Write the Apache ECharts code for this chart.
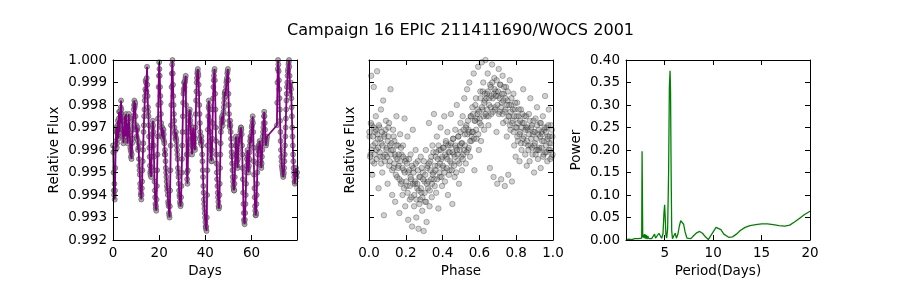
<!DOCTYPE html>
<html>
<head>
<meta charset="utf-8">
<script src="https://cdn.jsdelivr.net/npm/echarts@6/dist/echarts.min.js"></script>
<style>
html,body{margin:0;padding:0;background:#fff;}
#c{width:900px;height:300px;}
</style>
</head>
<body>
<div id="c"></div>
<script>
// ---------- Panel 1: light curve (main samples) ----------
const days = [
0.00,0.25,0.50,0.75,1.00,1.25,1.50,1.75,2.00,2.25,2.50,2.75,3.00,3.25,3.50,3.75,4.00,4.25,4.50,4.75,
5.00,5.25,5.50,5.75,6.00,6.25,6.50,6.75,7.00,7.25,7.50,7.75,8.00,8.25,8.50,8.75,9.00,9.25,9.50,9.75,
10.00,10.25,10.50,10.75,11.00,11.25,11.50,11.75,12.00,12.25,12.50,12.75,13.00,13.25,13.50,13.75,14.00,14.25,14.50,14.75,
15.00,15.25,15.50,15.75,16.00,16.25,16.50,16.75,17.00,17.25,17.50,17.75,18.00,18.25,18.50,18.75,19.00,19.25,19.50,19.75,
20.00,20.25,20.50,20.75,21.00,21.25,21.50,21.75,22.00,22.25,22.50,22.75,23.00,23.25,23.50,23.75,24.00,24.25,24.50,24.75,
25.00,25.25,25.50,25.75,26.00,26.25,26.50,26.75,27.00,27.25,27.50,27.75,28.00,28.25,28.50,28.75,29.00,29.25,29.50,29.75,
30.00,30.25,30.50,30.75,31.00,31.25,31.50,31.75,32.00,32.25,32.50,32.75,33.00,33.25,33.50,33.75,34.00,34.25,34.50,34.75,
35.00,35.25,35.50,35.75,36.00,36.25,36.50,36.75,37.00,37.25,37.50,37.75,38.00,38.25,38.50,38.75,39.00,39.25,39.50,39.75,
40.00,40.25,40.50,40.75,41.00,41.25,41.50,41.75,42.00,42.25,42.50,42.75,43.00,43.25,43.50,43.75,44.00,44.25,44.50,44.75,
45.00,45.25,45.50,45.75,46.00,46.25,46.50,46.75,47.00,47.25,47.50,47.75,48.00,48.25,48.50,48.75,49.00,49.25,49.50,49.75,
50.00,50.25,50.50,50.75,51.00,51.25,51.50,51.75,52.00,52.25,52.50,52.75,53.00,53.25,53.50,53.75,54.00,54.25,54.50,54.75,
55.00,55.25,55.50,55.75,56.00,56.25,56.50,56.75,57.00,57.25,57.50,57.75,58.00,58.25,58.50,58.75,59.00,59.25,59.50,59.75,
60.00,60.25,60.50,60.75,61.00,61.25,61.50,61.75,62.00,62.25,62.50,62.75,63.00,63.25,63.50,63.75,64.00,64.25,64.50,64.75,
65.00,65.25,65.50,65.75,66.00,66.25,66.50,66.75,
71.00,71.25,71.50,71.75,72.00,72.25,72.50,72.75,73.00,73.25,73.50,73.75,74.00,74.25,74.50,74.75,
75.00,75.25,75.50,75.75,76.00,76.25,76.50,76.75,77.00,77.25,77.50,77.75,78.00,78.25,78.50,78.75,79.00,79.25,79.50,79.70
];
const flux = [
0.9962,0.9950,0.9940,0.9938,0.9952,0.9964,0.9968,0.9963,0.9971,0.9967,0.9974,0.9970,0.9977,0.9975,0.9982,0.9976,0.9971,0.9966,0.9963,0.9969,
0.9973,0.9968,0.9974,0.9970,0.9966,0.9963,0.9969,0.9974,0.9971,0.9966,0.9961,0.9957,0.9956,0.9963,0.9969,0.9975,0.9978,0.9982,0.9980,0.9975,
0.9969,0.9966,0.9969,0.9964,0.9961,0.9956,0.9951,0.9945,0.9940,0.9938,0.9943,0.9951,0.9960,0.9968,0.9975,0.9982,0.9987,0.9990,0.9986,0.9997,
0.9984,0.9977,0.9971,0.9961,0.9953,0.9949,0.9948,0.9957,0.9967,0.9973,0.9968,0.9957,0.9946,0.9939,0.9934,0.9933,0.9944,0.9958,0.9974,0.9988,
0.9999,0.9993,0.9984,0.9976,0.9970,0.9966,0.9969,0.9965,0.9967,0.9963,0.9960,0.9955,0.9950,0.9946,0.9942,0.9940,0.9936,0.9932,0.9930,0.9942,
0.9962,0.9980,0.9994,1.0000,0.9989,0.9980,0.9973,0.9968,0.9965,0.9968,0.9964,0.9960,0.9956,0.9950,0.9945,0.9940,0.9937,0.9935,0.9939,0.9950,
0.9962,0.9975,0.9985,0.9990,0.9988,0.9991,0.9993,0.9968,0.9950,0.9945,0.9958,0.9970,0.9976,0.9978,0.9973,0.9968,0.9962,0.9958,0.9965,0.9970,
0.9966,0.9961,0.9960,0.9970,0.9982,0.9990,0.9994,0.9996,0.9993,0.9985,0.9976,0.9968,0.9963,0.9966,0.9962,0.9955,0.9948,0.9941,0.9936,0.9932,
0.9928,0.9925,0.9924,0.9940,0.9962,0.9975,0.9982,0.9978,0.9968,0.9960,0.9956,0.9955,0.9965,0.9978,0.9988,0.9993,0.9996,0.9985,0.9970,0.9958,
0.9950,0.9944,0.9939,0.9935,0.9935,0.9945,0.9958,0.9968,0.9972,0.9975,0.9971,0.9976,0.9979,0.9983,0.9986,0.9984,0.9988,0.9991,0.9994,0.9996,
0.9985,0.9976,0.9971,0.9973,0.9968,0.9962,0.9957,0.9951,0.9946,0.9943,0.9942,0.9948,0.9958,0.9966,0.9962,0.9955,0.9952,0.9960,0.9966,0.9963,
0.9966,0.9969,0.9970,0.9967,0.9958,0.9947,0.9936,0.9929,0.9927,0.9932,0.9940,0.9950,0.9956,0.9960,0.9955,0.9950,0.9956,0.9962,0.9966,0.9963,
0.9968,0.9971,0.9975,0.9968,0.9955,0.9943,0.9935,0.9931,0.9932,0.9940,0.9950,0.9958,0.9962,0.9960,0.9964,0.9962,0.9955,0.9952,0.9957,0.9963,
0.9968,0.9972,0.9977,0.9972,0.9966,0.9962,0.9964,0.9966,
0.9971,0.9990,1.0000,0.9995,0.9987,0.9978,0.9968,0.9960,0.9955,0.9952,0.9950,0.9948,0.9950,0.9955,0.9962,0.9970,
0.9978,0.9985,0.9990,0.9995,0.9998,1.0000,0.9993,0.9985,0.9990,0.9983,0.9975,0.9966,0.9958,0.9952,0.9948,0.9945,0.9946,0.9952,0.9948,0.9950
];
// ---------- Panel 1: light curve (in-between samples) ----------
const daysB = [
0.125,0.375,0.625,0.875,1.125,1.375,1.625,1.875,2.125,2.375,2.625,2.875,3.125,3.375,3.625,3.875,4.125,4.375,4.625,4.875,
5.125,5.375,5.625,5.875,6.125,6.375,6.625,6.875,7.125,7.375,7.625,7.875,8.125,8.375,8.625,8.875,9.125,9.375,9.625,9.875,
10.125,10.375,10.625,10.875,11.125,11.375,11.625,11.875,12.125,12.375,12.625,12.875,13.125,13.375,13.625,13.875,14.125,14.375,14.625,14.875,
15.125,15.375,15.625,15.875,16.125,16.375,16.625,16.875,17.125,17.375,17.625,17.875,18.125,18.375,18.625,18.875,19.125,19.375,19.625,19.875,
20.125,20.375,20.625,20.875,21.125,21.375,21.625,21.875,22.125,22.375,22.625,22.875,23.125,23.375,23.625,23.875,24.125,24.375,24.625,24.875,
25.125,25.375,25.625,25.875,26.125,26.375,26.625,26.875,27.125,27.375,27.625,27.875,28.125,28.375,28.625,28.875,29.125,29.375,29.625,29.875,
30.125,30.375,30.625,30.875,31.125,31.375,31.625,31.875,32.125,32.375,32.625,32.875,33.125,33.375,33.625,33.875,34.125,34.375,34.625,34.875,
35.125,35.375,35.625,35.875,36.125,36.375,36.625,36.875,37.125,37.375,37.625,37.875,38.125,38.375,38.625,38.875,39.125,39.375,39.625,39.875,
40.125,40.375,40.625,40.875,41.125,41.375,41.625,41.875,42.125,42.375,42.625,42.875,43.125,43.375,43.625,43.875,44.125,44.375,44.625,44.875,
45.125,45.375,45.625,45.875,46.125,46.375,46.625,46.875,47.125,47.375,47.625,47.875,48.125,48.375,48.625,48.875,49.125,49.375,49.625,49.875,
50.125,50.375,50.625,50.875,51.125,51.375,51.625,51.875,52.125,52.375,52.625,52.875,53.125,53.375,53.625,53.875,54.125,54.375,54.625,54.875,
55.125,55.375,55.625,55.875,56.125,56.375,56.625,56.875,57.125,57.375,57.625,57.875,58.125,58.375,58.625,58.875,59.125,59.375,59.625,59.875,
60.125,60.375,60.625,60.875,61.125,61.375,61.625,61.875,62.125,62.375,62.625,62.875,63.125,63.375,63.625,63.875,64.125,64.375,64.625,64.875,
65.125,65.375,65.625,65.875,66.125,66.375,66.625,
71.125,71.375,71.625,71.875,72.125,72.375,72.625,72.875,73.125,73.375,73.625,73.875,74.125,74.375,74.625,74.875,
75.125,75.375,75.625,75.875,76.125,76.375,76.625,76.875,77.125,77.375,77.625,77.875,78.125,78.375,78.625,78.875,79.125,79.375
];
const fluxB = [
0.9959,0.9942,0.9945,0.9942,0.9960,0.9970,0.9961,0.9968,0.9973,0.9965,0.9977,0.9968,0.9972,0.9979,0.9978,0.9973,0.9969,0.9967,0.9965,0.9968,
0.9975,0.9966,0.9976,0.9972,0.9969,0.9964,0.9967,0.9976,0.9968,0.9965,0.9960,0.9959,0.9958,0.9965,0.9973,0.9974,0.9980,0.9979,0.9981,0.9970,
0.9971,0.9965,0.9970,0.9960,0.9963,0.9953,0.9949,0.9943,0.9941,0.9940,0.9946,0.9955,0.9963,0.9971,0.9978,0.9984,0.9991,0.9986,0.9992,0.9989,
0.9979,0.9975,0.9966,0.9957,0.9950,0.9951,0.9952,0.9962,0.9970,0.9971,0.9962,0.9951,0.9942,0.9936,0.9935,0.9938,0.9951,0.9966,0.9980,0.9993,
0.9996,0.9988,0.9981,0.9972,0.9967,0.9970,0.9966,0.9969,0.9964,0.9958,0.9958,0.9952,0.9948,0.9944,0.9943,0.9937,0.9935,0.9931,0.9935,0.9951,
0.9971,0.9988,0.9998,0.9994,0.9984,0.9976,0.9970,0.9967,0.9966,0.9965,0.9962,0.9958,0.9952,0.9948,0.9942,0.9939,0.9936,0.9936,0.9944,0.9956,
0.9968,0.9981,0.9987,0.9986,0.9990,0.9992,0.9980,0.9958,0.9947,0.9951,0.9964,0.9973,0.9977,0.9975,0.9971,0.9965,0.9960,0.9962,0.9968,0.9967,
0.9963,0.9961,0.9965,0.9976,0.9986,0.9992,0.9995,0.9994,0.9989,0.9980,0.9972,0.9966,0.9964,0.9964,0.9958,0.9951,0.9944,0.9938,0.9934,0.9930,
0.9926,0.9926,0.9930,0.9951,0.9969,0.9979,0.9980,0.9973,0.9964,0.9958,0.9955,0.9960,0.9972,0.9983,0.9991,0.9995,0.9991,0.9978,0.9964,0.9954,
0.9947,0.9941,0.9937,0.9934,0.9940,0.9952,0.9963,0.9970,0.9974,0.9973,0.9973,0.9977,0.9981,0.9985,0.9985,0.9986,0.9990,0.9992,0.9995,0.9991,
0.9980,0.9973,0.9970,0.9971,0.9965,0.9959,0.9954,0.9948,0.9944,0.9942,0.9945,0.9953,0.9962,0.9964,0.9958,0.9953,0.9956,0.9963,0.9964,0.9965,
0.9968,0.9970,0.9969,0.9962,0.9952,0.9941,0.9932,0.9928,0.9929,0.9936,0.9945,0.9953,0.9958,0.9957,0.9952,0.9953,0.9959,0.9964,0.9965,0.9966,
0.9970,0.9973,0.9972,0.9961,0.9949,0.9939,0.9933,0.9931,0.9936,0.9945,0.9954,0.9960,0.9961,0.9962,0.9963,0.9958,0.9953,0.9954,0.9960,0.9966,
0.9970,0.9975,0.9975,0.9969,0.9964,0.9963,0.9965,
0.9981,0.9996,0.9998,0.9991,0.9983,0.9973,0.9964,0.9957,0.9953,0.9951,0.9949,0.9949,0.9952,0.9958,0.9966,0.9974,
0.9982,0.9988,0.9993,0.9996,0.9999,0.9997,0.9989,0.9988,0.9987,0.9979,0.9970,0.9962,0.9955,0.9950,0.9946,0.9946,0.9949,0.9950
];

// ---------- Panel 2: phase-folded (outer cloud) ----------
const phase = [
0.003,0.008,0.012,0.015,0.018,0.022,0.026,0.029,0.033,0.037,0.041,0.044,0.048,0.052,0.057,0.061,0.065,0.068,0.072,0.077,
0.081,0.084,0.088,0.092,0.096,0.101,0.105,0.109,0.113,0.117,0.122,0.126,0.131,0.134,0.138,0.142,0.145,0.149,0.153,0.158,
0.161,0.165,0.169,0.173,0.177,0.182,0.185,0.189,0.193,0.197,0.201,0.205,0.209,0.213,0.218,0.222,0.226,0.229,0.234,0.238,
0.241,0.245,0.249,0.253,0.257,0.262,0.265,0.269,0.273,0.278,0.281,0.285,0.289,0.293,0.297,0.302,0.305,0.309,0.313,0.317,
0.321,0.326,0.329,0.333,0.338,0.341,0.345,0.349,0.353,0.357,0.362,0.365,0.369,0.373,0.377,0.381,0.385,0.389,0.393,0.397,
0.402,0.405,0.409,0.413,0.418,0.421,0.426,0.429,0.433,0.438,0.441,0.445,0.449,0.453,0.457,0.462,0.465,0.469,0.473,0.477,
0.481,0.485,0.489,0.493,0.497,0.502,0.505,0.509,0.513,0.518,0.521,0.526,0.529,0.533,0.538,0.541,0.545,0.549,0.553,0.557,
0.562,0.565,0.569,0.573,0.577,0.581,0.585,0.589,0.593,0.597,0.602,0.605,0.609,0.613,0.618,0.621,0.626,0.629,0.633,0.638,
0.641,0.645,0.649,0.653,0.657,0.662,0.665,0.669,0.673,0.677,0.681,0.685,0.689,0.693,0.697,0.702,0.705,0.709,0.713,0.718,
0.721,0.726,0.729,0.733,0.738,0.741,0.745,0.749,0.753,0.757,0.762,0.765,0.769,0.773,0.777,0.781,0.785,0.789,0.793,0.797,
0.802,0.805,0.809,0.813,0.818,0.821,0.826,0.829,0.833,0.838,0.841,0.845,0.849,0.853,0.857,0.862,0.865,0.869,0.873,0.877,
0.881,0.885,0.889,0.893,0.897,0.902,0.905,0.909,0.913,0.918,0.921,0.926,0.929,0.933,0.938,0.941,0.945,0.949,0.953,0.957,
0.962,0.965,0.969,0.973,0.977,0.981,0.985,0.989,0.993,0.997
];
const phaseFlux = [
0.9966,0.9958,0.9993,0.9971,0.9949,0.9962,0.9988,0.9954,0.9968,0.9975,0.9960,0.9995,0.9965,0.9943,0.9970,0.9957,0.9978,0.9963,0.9950,0.9982,
0.9931,0.9967,0.9958,0.9973,0.9961,0.9945,0.9966,0.9972,0.9955,0.9987,0.9960,0.9940,0.9969,0.9952,0.9964,0.9937,0.9957,0.9975,0.9948,0.9962,
0.9953,0.9932,0.9967,0.9945,0.9958,0.9940,0.9962,0.9951,0.9974,0.9935,0.9956,0.9944,0.9966,0.9929,0.9951,0.9938,0.9958,0.9947,0.9926,0.9969,
0.9952,0.9935,0.9945,0.9960,0.9930,0.9943,0.9955,0.9925,0.9948,0.9938,0.9957,0.9941,0.9933,0.9950,0.9924,0.9946,0.9937,0.9960,0.9928,0.9952,
0.9943,0.9972,0.9935,0.9955,0.9947,0.9939,0.9962,0.9950,0.9976,0.9944,0.9957,0.9941,0.9966,0.9953,0.9934,0.9960,0.9948,0.9970,0.9956,0.9944,
0.9961,0.9952,0.9975,0.9946,0.9963,0.9957,0.9968,0.9940,0.9959,0.9951,0.9962,0.9976,0.9954,0.9936,0.9965,0.9958,0.9948,0.9969,0.9961,0.9980,
0.9955,0.9966,0.9945,0.9960,0.9972,0.9963,0.9951,0.9975,0.9958,0.9983,0.9967,0.9954,0.9971,0.9987,0.9960,0.9969,0.9990,0.9957,0.9975,0.9964,
0.9979,0.9968,0.9994,0.9951,0.9973,0.9983,0.9965,0.9976,0.9997,0.9960,0.9972,0.9986,0.9964,0.9999,0.9978,0.9990,0.9969,0.9982,1.0000,0.9975,
0.9985,0.9994,0.9971,0.9980,0.9952,0.9988,0.9976,0.9998,0.9983,0.9948,0.9992,0.9979,0.9986,0.9968,0.9945,0.9984,0.9996,0.9977,0.9989,0.9947,
0.9981,0.9993,0.9972,0.9985,0.9944,0.9978,0.9988,0.9966,0.9982,0.9949,0.9975,0.9991,0.9969,0.9980,0.9946,0.9973,0.9985,0.9962,0.9978,0.9957,
0.9970,0.9981,0.9964,0.9975,0.9955,0.9968,0.9978,0.9960,0.9972,0.9987,0.9966,0.9975,0.9958,0.9970,0.9953,0.9969,0.9962,0.9976,0.9955,0.9983,
0.9965,0.9971,0.9958,0.9968,0.9950,0.9963,0.9974,0.9960,0.9979,0.9956,0.9967,0.9961,0.9972,0.9952,0.9968,0.9964,0.9975,0.9958,0.9969,0.9984,
0.9962,0.9970,0.9955,0.9966,0.9978,0.9963,0.9960,0.9971,0.9957,0.9966
];
// ---------- Panel 2: phase-folded (dense core) ----------
const phaseCore = [
0.002,0.006,0.010,0.014,0.018,0.022,0.026,0.030,0.034,0.038,0.042,0.046,0.050,0.054,0.058,0.062,0.066,0.070,0.074,0.078,
0.082,0.086,0.090,0.094,0.098,0.102,0.106,0.110,0.114,0.118,0.122,0.126,0.130,0.134,0.138,0.142,0.146,0.150,0.154,0.158,
0.162,0.166,0.170,0.174,0.178,0.182,0.186,0.190,0.194,0.198,0.202,0.206,0.210,0.214,0.218,0.222,0.226,0.230,0.234,0.238,
0.242,0.246,0.250,0.254,0.258,0.262,0.266,0.270,0.274,0.278,0.282,0.286,0.290,0.294,0.298,0.302,0.306,0.310,0.314,0.318,
0.322,0.326,0.330,0.334,0.338,0.342,0.346,0.350,0.354,0.358,0.362,0.366,0.370,0.374,0.378,0.382,0.386,0.390,0.394,0.398,
0.402,0.406,0.410,0.414,0.418,0.422,0.426,0.430,0.434,0.438,0.442,0.446,0.450,0.454,0.458,0.462,0.466,0.470,0.474,0.478,
0.482,0.486,0.490,0.494,0.498,0.502,0.506,0.510,0.514,0.518,0.522,0.526,0.530,0.534,0.538,0.542,0.546,0.550,0.554,0.558,
0.562,0.566,0.570,0.574,0.578,0.582,0.586,0.590,0.594,0.598,0.602,0.606,0.610,0.614,0.618,0.622,0.626,0.630,0.634,0.638,
0.642,0.646,0.650,0.654,0.658,0.662,0.666,0.670,0.674,0.678,0.682,0.686,0.690,0.694,0.698,0.702,0.706,0.710,0.714,0.718,
0.722,0.726,0.730,0.734,0.738,0.742,0.746,0.750,0.754,0.758,0.762,0.766,0.770,0.774,0.778,0.782,0.786,0.790,0.794,0.798,
0.802,0.806,0.810,0.814,0.818,0.822,0.826,0.830,0.834,0.838,0.842,0.846,0.850,0.854,0.858,0.862,0.866,0.870,0.874,0.878,
0.882,0.886,0.890,0.894,0.898,0.902,0.906,0.910,0.914,0.918,0.922,0.926,0.930,0.934,0.938,0.942,0.946,0.950,0.954,0.958,
0.962,0.966,0.970,0.974,0.978,0.982,0.986,0.990,0.994,0.998
];
const phaseCoreFlux = [
0.9968,0.9957,0.9972,0.9960,0.9955,0.9966,0.9970,0.9958,0.9963,0.9969,
0.9956,0.9967,0.9961,0.9971,0.9959,0.9965,0.9954,0.9968,0.9962,0.9957,
0.9966,0.9955,0.9969,0.9960,0.9957,0.9964,0.9970,0.9953,0.9962,0.9958,
0.9963,0.9951,0.9960,0.9966,0.9954,0.9958,0.9949,0.9962,0.9956,0.9952,
0.9958,0.9947,0.9955,0.9961,0.9946,0.9952,0.9957,0.9943,0.9950,0.9955,
0.9946,0.9954,0.9941,0.9950,0.9956,0.9944,0.9948,0.9939,0.9953,0.9945,
0.9950,0.9940,0.9946,0.9954,0.9938,0.9945,0.9951,0.9942,0.9936,0.9948,
0.9943,0.9952,0.9939,0.9947,0.9955,0.9941,0.9949,0.9937,0.9945,0.9953,
0.9946,0.9954,0.9942,0.9951,0.9957,0.9945,0.9949,0.9959,0.9947,0.9953,
0.9951,0.9959,0.9947,0.9956,0.9962,0.9950,0.9954,0.9960,0.9948,0.9957,
0.9953,0.9961,0.9950,0.9958,0.9964,0.9952,0.9956,0.9962,0.9949,0.9959,
0.9955,0.9963,0.9951,0.9959,0.9965,0.9953,0.9957,0.9962,0.9950,0.9960,
0.9958,0.9966,0.9954,0.9962,0.9968,0.9957,0.9963,0.9956,0.9969,0.9960,
0.9962,0.9970,0.9959,0.9967,0.9973,0.9961,0.9968,0.9964,0.9975,0.9966,
0.9968,0.9976,0.9965,0.9973,0.9980,0.9969,0.9974,0.9978,0.9967,0.9977,
0.9974,0.9983,0.9971,0.9979,0.9986,0.9975,0.9981,0.9985,0.9976,0.9983,
0.9978,0.9986,0.9975,0.9983,0.9989,0.9979,0.9984,0.9990,0.9977,0.9985,
0.9987,0.9978,0.9984,0.9991,0.9980,0.9986,0.9976,0.9983,0.9989,0.9979,
0.9985,0.9976,0.9982,0.9988,0.9977,0.9983,0.9973,0.9980,0.9986,0.9975,
0.9980,0.9971,0.9977,0.9983,0.9972,0.9978,0.9968,0.9975,0.9981,0.9970,
0.9975,0.9966,0.9972,0.9978,0.9967,0.9973,0.9963,0.9970,0.9976,0.9965,
0.9972,0.9963,0.9969,0.9975,0.9964,0.9970,0.9960,0.9967,0.9973,0.9962,
0.9970,0.9961,0.9967,0.9973,0.9962,0.9968,0.9958,0.9965,0.9971,0.9960,
0.9969,0.9960,0.9966,0.9972,0.9961,0.9967,0.9957,0.9964,0.9970,0.9959,
0.9968,0.9959,0.9965,0.9971,0.9960,0.9966,0.9956,0.9963,0.9969,0.9958
];

// ---------- Panel 3: periodogram ----------
const period = [
1.00,1.30,1.60,1.90,2.10,2.30,2.50,2.62,2.66,2.70,2.73,2.80,2.88,2.95,3.02,3.10,3.18,3.25,3.35,3.50,
3.65,3.80,3.95,4.05,4.20,4.40,4.55,4.68,4.82,4.92,4.99,5.05,5.12,5.20,5.30,5.40,5.48,5.55,5.60,5.66,
5.72,5.80,5.95,6.08,6.20,6.35,6.50,6.65,6.80,6.95,7.10,7.30,7.50,7.70,8.00,8.30,8.60,8.90,9.20,9.50,
9.70,10.00,10.30,10.50,10.80,11.10,11.60,12.00,12.40,12.80,13.30,13.80,14.40,15.00,15.60,16.20,16.80,17.40,17.90,18.40,
18.90,19.40,20.00
];
const power = [
0.001,0.002,0.001,0.003,0.001,0.003,0.002,0.004,0.197,0.196,0.006,0.012,0.004,0.013,0.003,0.011,0.002,0.009,0.003,0.006,
0.003,0.008,0.013,0.004,0.007,0.015,0.012,0.004,0.014,0.060,0.078,0.050,0.012,0.004,0.025,0.150,0.340,0.376,0.330,0.150,
0.020,0.003,0.010,0.015,0.004,0.012,0.030,0.043,0.045,0.035,0.018,0.004,0.001,0.003,0.010,0.016,0.019,0.015,0.007,0.001,
0.003,0.018,0.028,0.029,0.023,0.013,0.006,0.007,0.013,0.021,0.028,0.032,0.034,0.036,0.036,0.034,0.032,0.031,0.033,0.040,
0.048,0.056,0.064
];

// ---------- tick values ----------
const dayTicks = [0, 20, 40, 60];
const fluxTicks = [0.992, 0.993, 0.994, 0.995, 0.996, 0.997, 0.998, 0.999, 1.000];
const phaseTicks = [0.0, 0.2, 0.4, 0.6, 0.8, 1.0];
const periodTicks = [5, 10, 15, 20];
const powerTicks = [0.00, 0.05, 0.10, 0.15, 0.20, 0.25, 0.30, 0.35, 0.40];

const FONT = 'DejaVu Sans';
const FS = 13.5;

function zip(a, b) { return a.map((v, i) => [v, b[i]]); }

const lightCurve = zip(days, flux).concat(zip(daysB, fluxB)).sort((a, b) => a[0] - b[0]);
const folded = zip(phase, phaseFlux).concat(zip(phaseCore, phaseCoreFlux));

function mkAxis(o) {
  return {
    type: 'value',
    gridIndex: o.grid,
    position: o.pos,
    min: o.min, max: o.max,
    name: o.name || '',
    nameLocation: 'middle',
    nameGap: o.nameGap || 0,
    nameTextStyle: { fontFamily: FONT, fontSize: FS, color: '#000' },
    axisLine: { show: true, onZero: false, lineStyle: { color: '#000', width: 1 } },
    axisTick: { show: true, inside: true, length: 5, lineStyle: { color: '#000', width: 1 }, customValues: o.ticks },
    axisLabel: {
      show: !!o.labels, customValues: o.ticks, formatter: o.fmt, margin: o.margin || 6,
      fontFamily: FONT, fontSize: FS, color: '#000', hideOverlap: false
    },
    splitLine: { show: false },
    minorTick: { show: false },
    z: 10
  };
}

const grids = [
  { left: 113, top: 60, width: 184, height: 180 },
  { left: 369, top: 60, width: 184, height: 180 },
  { left: 626, top: 60, width: 184, height: 180 }
];

const xAxis = [
  mkAxis({ grid: 0, pos: 'bottom', min: 0, max: 79.7, ticks: dayTicks, labels: true, fmt: v => String(Math.round(v)), name: 'Days', nameGap: 23 }),
  mkAxis({ grid: 0, pos: 'top', min: 0, max: 79.7, ticks: dayTicks }),
  mkAxis({ grid: 1, pos: 'bottom', min: 0, max: 1, ticks: phaseTicks, labels: true, fmt: v => v.toFixed(1), name: 'Phase', nameGap: 23 }),
  mkAxis({ grid: 1, pos: 'top', min: 0, max: 1, ticks: phaseTicks }),
  mkAxis({ grid: 2, pos: 'bottom', min: 1, max: 20, ticks: periodTicks, labels: true, fmt: v => String(Math.round(v)), name: 'Period(Days)', nameGap: 23 }),
  mkAxis({ grid: 2, pos: 'top', min: 1, max: 20, ticks: periodTicks })
];
const yAxis = [
  mkAxis({ grid: 0, pos: 'left', min: 0.992, max: 1.0, ticks: fluxTicks, labels: true, fmt: v => v.toFixed(3), name: 'Relative Flux', nameGap: 52 }),
  mkAxis({ grid: 0, pos: 'right', min: 0.992, max: 1.0, ticks: fluxTicks }),
  mkAxis({ grid: 1, pos: 'left', min: 0.992, max: 1.0, ticks: fluxTicks, labels: false, name: 'Relative Flux', nameGap: 12 }),
  mkAxis({ grid: 1, pos: 'right', min: 0.992, max: 1.0, ticks: fluxTicks }),
  mkAxis({ grid: 2, pos: 'left', min: 0, max: 0.4, ticks: powerTicks, labels: true, fmt: v => v.toFixed(2), name: 'Power', nameGap: 43 }),
  mkAxis({ grid: 2, pos: 'right', min: 0, max: 0.4, ticks: powerTicks })
];

const chart = echarts.init(document.getElementById('c'), null, { renderer: 'canvas' });
chart.setOption({
  animation: false,
  backgroundColor: '#fff',
  title: {
    text: 'Campaign 16 EPIC 211411690/WOCS 2001',
    left: 282, top: 18,
    textStyle: { fontFamily: FONT, fontSize: 16.1, fontWeight: 'normal', color: '#000' }
  },
  grid: grids,
  xAxis: xAxis,
  yAxis: yAxis,
  series: [
    {
      type: 'scatter', xAxisIndex: 0, yAxisIndex: 0,
      data: lightCurve, symbol: 'circle', symbolSize: 5,
      itemStyle: { color: '#999999', borderColor: '#444', borderWidth: 0.7 },
      clip: true, z: 2
    },
    {
      type: 'line', xAxisIndex: 0, yAxisIndex: 0,
      data: lightCurve, showSymbol: false,
      lineStyle: { color: '#800080', width: 1.8 },
      clip: true, z: 3
    },
    {
      type: 'scatter', xAxisIndex: 2, yAxisIndex: 2,
      data: folded, symbol: 'circle', symbolSize: 5.5,
      itemStyle: { color: '#707070', borderColor: '#000', borderWidth: 0.8, opacity: 0.33 },
      clip: true, z: 2
    },
    {
      type: 'line', xAxisIndex: 4, yAxisIndex: 4,
      data: zip(period, power), showSymbol: false,
      lineStyle: { color: '#008000', width: 1.3 },
      clip: true, z: 3
    }
  ]
});
</script>
</body>
</html>
